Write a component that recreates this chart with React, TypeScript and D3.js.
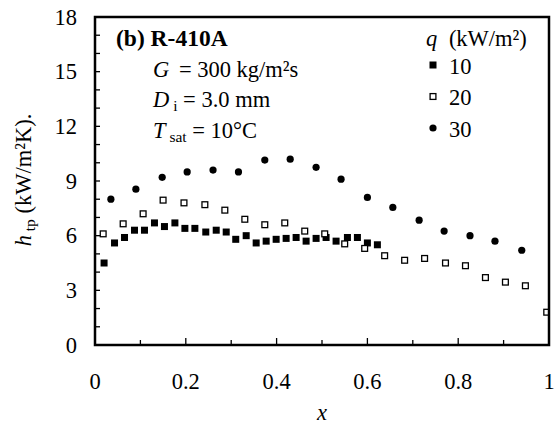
import React from "react";
import * as d3 from "d3";

const x10 = [0.02, 0.043, 0.065, 0.087, 0.109, 0.131, 0.153, 0.176, 0.198, 0.22, 0.244, 0.267, 0.289, 0.31, 0.333, 0.355, 0.377, 0.399, 0.421, 0.443, 0.465, 0.487, 0.509, 0.531, 0.556, 0.578, 0.6, 0.622];
const h10 = [4.5, 5.6, 5.9, 6.3, 6.3, 6.7, 6.5, 6.7, 6.4, 6.4, 6.2, 6.3, 6.2, 5.8, 6.0, 5.6, 5.7, 5.8, 5.85, 5.9, 5.7, 5.85, 5.9, 5.7, 5.9, 5.9, 5.6, 5.5];

const x20 = [0.018, 0.062, 0.106, 0.15, 0.196, 0.242, 0.286, 0.33, 0.374, 0.418, 0.462, 0.506, 0.55, 0.594, 0.638, 0.682, 0.726, 0.772, 0.816, 0.86, 0.904, 0.948, 0.995];
const h20 = [6.1, 6.65, 7.2, 7.95, 7.8, 7.7, 7.4, 6.9, 6.6, 6.7, 6.25, 6.1, 5.55, 5.3, 4.9, 4.65, 4.75, 4.5, 4.35, 3.7, 3.45, 3.25, 1.8];

const x30 = [0.035, 0.09, 0.148, 0.203, 0.26, 0.316, 0.374, 0.43, 0.487, 0.542, 0.6, 0.656, 0.714, 0.769, 0.826, 0.881, 0.94];
const h30 = [8.0, 8.55, 9.2, 9.5, 9.6, 9.5, 10.15, 10.2, 9.75, 9.1, 8.1, 7.55, 6.85, 6.25, 6.0, 5.7, 5.2];

const xTickLabels = ["0", "0.2", "0.4", "0.6", "0.8", "1"];
const yTickLabels = ["0", "3", "6", "9", "12", "15", "18"];
const legendLabels = ["10", "20", "30"];

const ts = { fontFamily: "Liberation Serif" } as React.CSSProperties;
const FS = 22.5;
const SUB = 15.5;

export default function App() {
  const L = 95, R = 549, T = 17, B = 345;
  const xs = d3.scaleLinear().domain([0, 1]).range([L, R]);
  const ys = d3.scaleLinear().domain([0, 18]).range([B, T]);
  const xMinor = d3.range(0, 11).map((i) => i / 10);
  const yMinor = d3.range(0, 19);
  const ms = 7;

  const pts10 = x10.map((x, i) => [x, h10[i]]);
  const pts20 = x20.map((x, i) => [x, h20[i]]);
  const pts30 = x30.map((x, i) => [x, h30[i]]);

  return (
    <svg width={555} height={430} style={{ position: "absolute", left: 0, top: 0, background: "#fff" }}>
      <rect x={0} y={0} width={555} height={430} fill="#fff" />
      <defs>
        <clipPath id="plotclip">
          <rect x={L} y={T} width={R - L} height={B - T} />
        </clipPath>
      </defs>
      <g clipPath="url(#plotclip)">
        {pts10.map(([x, y], i) => (
          <rect key={"a" + i} x={xs(x) - ms / 2} y={ys(y) - ms / 2} width={ms} height={ms} fill="#000" />
        ))}
        {pts20.map(([x, y], i) => (
          <rect key={"b" + i} x={xs(x) - ms / 2 + 0.6} y={ys(y) - ms / 2 + 0.6} width={ms - 1.2} height={ms - 1.2} fill="#fff" stroke="#000" strokeWidth={1.3} />
        ))}
        {pts30.map(([x, y], i) => (
          <circle key={"c" + i} cx={xs(x)} cy={ys(y)} r={3.6} fill="#000" />
        ))}
      </g>
      {xMinor.map((v, i) => (
        <line key={"xt" + i} x1={xs(v)} x2={xs(v)} y1={B} y2={B - (i % 2 === 0 ? 7 : 5)} stroke="#000" strokeWidth={1.3} />
      ))}
      {yMinor.map((v, i) => (
        <line key={"yt" + i} x1={L} x2={L + 5} y1={ys(v)} y2={ys(v)} stroke="#000" strokeWidth={1.3} />
      ))}
      <rect x={L} y={T} width={R - L} height={B - T} fill="none" stroke="#000" strokeWidth={2.5} />
      {xTickLabels.map((t, i) => (
        <text key={"xl" + i} style={ts} x={xs(+t)} y={389} textAnchor="middle" fontSize={FS}>{t}</text>
      ))}
      {yTickLabels.map((t, i) => (
        <text key={"yl" + i} style={ts} x={77} y={ys(+t) + 7.5} textAnchor="end" fontSize={FS}>{t}</text>
      ))}
      <text style={ts} x={322} y={420} textAnchor="middle" fontSize={FS} fontStyle="italic">x</text>
      <text style={ts} transform="translate(31,180) rotate(-90)" textAnchor="middle" fontSize={FS}>
        <tspan fontStyle="italic">h</tspan>
        <tspan fontSize={SUB} dy={4}> tp</tspan>
        <tspan dy={-4}> (kW/m²K).</tspan>
      </text>
      <text style={ts} x={116} y={46} fontSize={23.5} fontWeight="bold">(b) R-410A</text>
      <text style={ts} x={153} y={77} fontSize={FS}>
        <tspan fontStyle="italic">G</tspan>
        <tspan dx={4}> = 300 kg/m²s</tspan>
      </text>
      <text style={ts} x={153} y={107} fontSize={FS}>
        <tspan fontStyle="italic">D</tspan>
        <tspan fontSize={SUB} dy={4}> i</tspan>
        <tspan dy={-4}> = 3.0 mm</tspan>
      </text>
      <text style={ts} x={153} y={138} fontSize={FS}>
        <tspan fontStyle="italic">T</tspan>
        <tspan fontSize={SUB} dy={4}> sat</tspan>
        <tspan dy={-4}> = 10°C</tspan>
      </text>
      <text style={ts} x={426} y={46} fontSize={FS}>
        <tspan fontStyle="italic">q</tspan>
        <tspan dx={6}> (kW/m²)</tspan>
      </text>
      {legendLabels.map((t, i) => {
        const cy = 65 + i * 31.5;
        return (
          <g key={"lg" + i}>
            {i === 0 && <rect x={433 - ms / 2} y={cy - ms / 2} width={ms} height={ms} fill="#000" />}
            {i === 1 && <rect x={433 - ms / 2 + 0.6} y={cy - ms / 2 + 0.6} width={ms - 1.2} height={ms - 1.2} fill="#fff" stroke="#000" strokeWidth={1.3} />}
            {i === 2 && <circle cx={433} cy={cy} r={3.6} fill="#000" />}
            <text style={ts} x={449} y={cy + 8.5} fontSize={FS}>{t}</text>
          </g>
        );
      })}
    </svg>
  );
}
